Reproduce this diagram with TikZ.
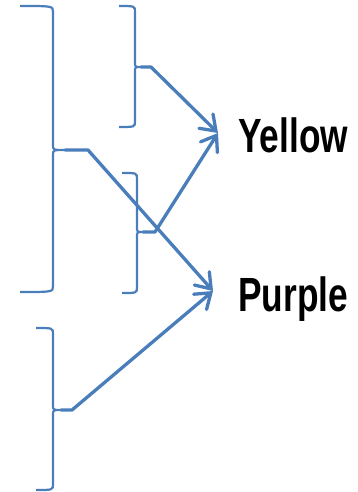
\documentclass[tikz,border=0pt]{standalone}
\usepackage{fontspec}
\newfontfamily\labfont[FakeStretch=0.735]{Liberation Sans}
\usetikzlibrary{arrows.meta}
\definecolor{bl}{HTML}{4A7EBB}
\tikzset{
  brace/.style={draw=bl, line width=2.2pt},
  conn/.style={draw=bl, line width=3.3pt, line cap=round, line join=round,
    -{Straight Barb[length=14pt,width=20pt,line cap=round]}},
  lab/.style={inner sep=0pt, anchor=base west, font=\labfont\bfseries\fontsize{48}{48}\selectfont}
}
% name, xl, xs, yt, ym, yb, cusp offset
\newcommand\bracepath[7]{%
  \draw[brace] (#2,#4) .. controls (#3,#4) .. (#3,#4+6) -- (#3,#5-5)
    .. controls (#3,#5) .. (#3+#7,#5) .. controls (#3,#5) .. (#3,#5+5)
    -- (#3,#6-6) .. controls (#3,#6) .. (#2,#6);
  \coordinate (#1) at (#3+#7,#5);}
\begin{document}
\begin{tikzpicture}[x=1pt,y=-1pt]
\useasboundingbox (0,0) rectangle (358,492);
\bracepath{b1}{20}{53}{6}{150}{292}{12}
\bracepath{b2}{119}{135}{6}{67}{127}{6}
\bracepath{b3}{122}{137}{173}{232}{293}{6}
\bracepath{b4}{36}{53}{328}{410}{490}{8}
\node[lab] (yellow) at (238,152) {Yellow};
\node[lab] (purple) at (238,311) {Purple};
\draw[conn] (b2) -- ++(10,0) -- ([shift={(-20,-19)}]yellow.base west);
\draw[conn] (b3) -- ++(12,0) -- ([shift={(-20,-19)}]yellow.base west);
\draw[conn] (b1) -- ++(23,0) -- ([shift={(-25,-20)}]purple.base west);
\draw[conn] (b4) -- ++(11,0) -- ([shift={(-25,-20)}]purple.base west);
\end{tikzpicture}
\end{document}
